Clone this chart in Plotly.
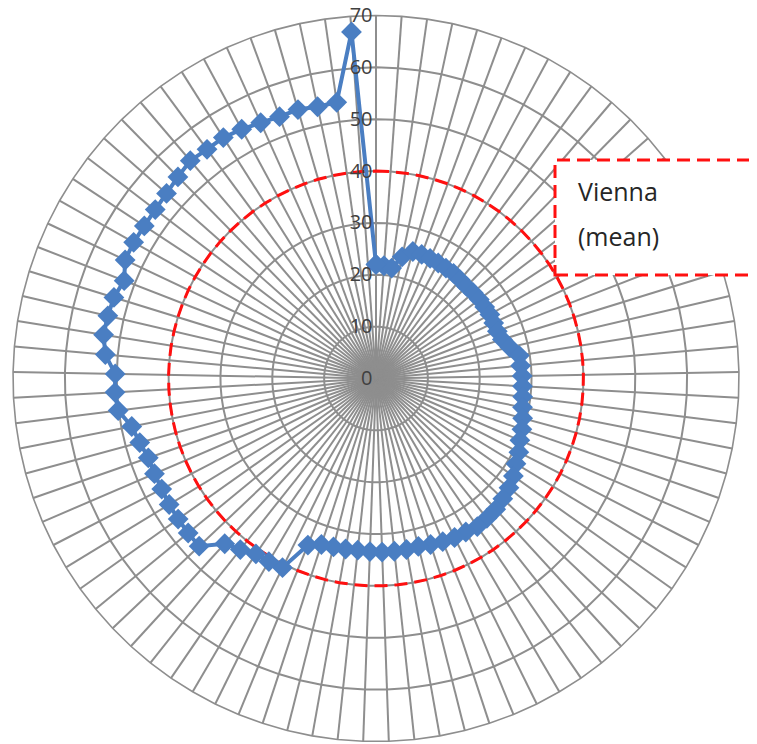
import plotly.graph_objects as go

categories = [str(i) for i in range(1, 90)]

vienna_values = [
    22, 21.8, 21.5, 24, 25.5, 25.5, 25.4, 25.3, 25.2, 25.2,
    25, 24.9, 25, 25.1, 25.1, 25.2, 25.1, 25.1, 25.5, 26.5,
    28, 28, 28.2, 28.3, 28.5, 28.8, 29.3, 29.8, 30.2, 31,
    31.6, 32.5, 33.2, 33.7, 34.2, 34.4, 34.6, 34.3, 34.2, 34,
    33.7, 33.4, 33.5, 33.5, 33.5, 33.4, 33.3, 33.4, 33.5, 33.7,
    34.7, 40.7, 40.9, 41, 42.1, 43.2, 47, 46.9, 46.8, 46.7,
    46.5, 46.5, 46.5, 47.2, 48, 50.1, 50.4, 50.3, 52.4, 53.2,
    53.1, 52.9, 52.1, 53.5, 53.6, 53.5, 53.6, 53.9, 54.5, 55.2,
    54.9, 55, 54.6, 54.1, 53.8, 54, 53.6, 53.8, 67,
]

mean_value = 40
mean_values = [mean_value] * len(categories)

radial_ticks = [0, 10, 20, 30, 40, 50, 60, 70]

fig = go.Figure()

fig.add_trace(go.Scatterpolar(
    r=mean_values + [mean_values[0]],
    theta=categories + [categories[0]],
    mode="lines",
    line=dict(color="#FF1010", width=3, dash="13px,7px"),
    hoverinfo="skip",
    showlegend=False,
))

fig.add_trace(go.Scatterpolar(
    r=vienna_values + [vienna_values[0]],
    theta=categories + [categories[0]],
    mode="lines+markers",
    line=dict(color="#4A7EC2", width=4),
    marker=dict(symbol="diamond", size=16, color="#4A7EC2"),
    showlegend=False,
))

W, H = 757, 744
OFF = 8  # default page body margin in the rendered html
cx, cy, R = 376 - OFF, 378.5 - OFF, 363


def px(x):
    return (x - OFF) / W


def py(y):
    return 1 - (y - OFF) / H


fig.update_layout(
    width=W, height=H,
    margin=dict(l=0, r=0, t=0, b=0),
    paper_bgcolor="white",
    plot_bgcolor="white",
    showlegend=False,
    polar=dict(
        domain=dict(x=[(cx - R) / W, (cx + R) / W],
                    y=[(H - cy - R) / H, (H - cy + R) / H]),
        bgcolor="white",
        gridshape="linear",
        hole=0,
        angularaxis=dict(
            type="category",
            categoryarray=categories,
            direction="clockwise",
            rotation=90,
            showticklabels=False,
            ticks="",
            showgrid=True,
            gridcolor="#8E8E8E",
            gridwidth=1.5,
            showline=True,
            linecolor="#8E8E8E",
            linewidth=1.6,
        ),
        radialaxis=dict(
            range=[0, 70],
            tickvals=radial_ticks,
            ticktext=[str(t) for t in radial_ticks],
            angle=90,
            tickangle=90,
            side="counterclockwise",
            ticks="",
            showline=False,
            showgrid=True,
            gridcolor="#8E8E8E",
            gridwidth=1.5,
            tickfont=dict(family="Open Sans", size=20, color="#404040"),
        ),
    ),
)

fig.add_shape(
    type="rect", xref="paper", yref="paper",
    x0=px(555), x1=px(755),
    y0=py(275), y1=py(160),
    line=dict(color="#FF1010", width=3, dash="13px,7px"),
    fillcolor="white",
    layer="above",
)

fig.add_annotation(
    xref="paper", yref="paper",
    x=px(576), y=py(191),
    xanchor="left", yanchor="middle",
    text="Vienna",
    showarrow=False,
    font=dict(family="Open Sans", size=25, color="#262626"),
)
fig.add_annotation(
    xref="paper", yref="paper",
    x=px(576), y=py(236),
    xanchor="left", yanchor="middle",
    text="(mean)",
    showarrow=False,
    font=dict(family="Open Sans", size=25, color="#262626"),
)

fig.write_html("out.html")
